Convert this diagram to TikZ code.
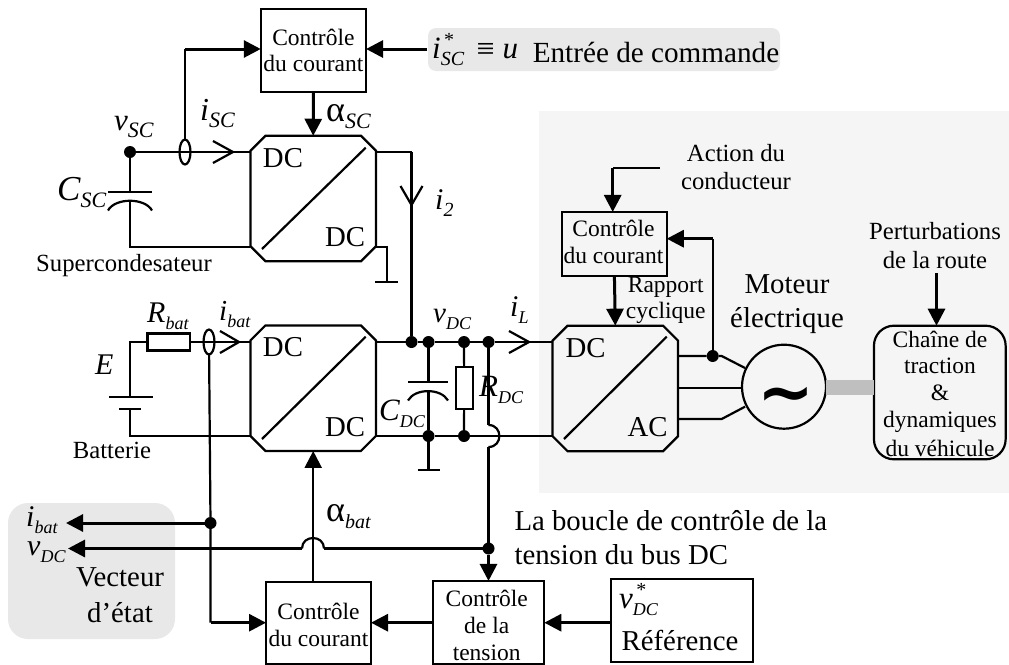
\documentclass[tikz,border=0pt]{standalone}
\usepackage{fontspec}
\setmainfont{Liberation Serif}
\newfontfamily\symfont{DejaVu Sans}
\usetikzlibrary{arrows.meta,shapes.geometric,calc}
\newcommand\fsz[1]{\fontsize{#1}{#1}\selectfont}
% letter, subscript, [letter size], subscript size
\newcommand\sym[4][31]{{\fsz{#1}\itshape #2}\raisebox{-7pt}{\fsz{#4}\itshape #3}}
\newcommand\symstar[4][31]{{\fsz{#1}\itshape #2}\rlap{\raisebox{12pt}{\fsz{20}\,*}}\raisebox{-7pt}{\fsz{#4}\itshape #3}}
\newcommand\alp[2]{{\fsz{36}α}\raisebox{-7pt}{\fsz{#2}\itshape #1}}
% chamfered converter outline around a named rectangle node
\newcommand\chamf[1]{\draw[wire,line join=miter] ($(#1.north west)+(15,0)$) -- ($(#1.north east)+(-15,0)$) -- ($(#1.north east)+(0,15)$) -- ($(#1.south east)+(0,-15)$) -- ($(#1.south east)+(-15,0)$) -- ($(#1.south west)+(15,0)$) -- ($(#1.south west)+(0,-15)$) -- ($(#1.north west)+(0,15)$) -- cycle;}
\tikzset{
  x=1pt,y=-1pt,
  wire/.style={line width=2.2pt,line join=miter},
  bus/.style={line width=3pt},
  sig/.style={bus,-{Triangle[length=17pt,width=17pt]}},
  wsig/.style={wire,-{Triangle[length=17pt,width=17pt]}},
  ctrl/.style={draw,line width=2.2pt,rectangle,inner sep=0pt,outer sep=0pt,align=center},
  ctrltext/.style={font=\fsz{23.5},align=center,inner sep=0pt},
  conv/.style={rectangle,minimum width=125.5pt,minimum height=125.5pt,inner sep=0pt,outer sep=0pt},
  ringn/.style={draw,line width=2.2pt,ellipse,minimum width=11pt,minimum height=25pt,inner sep=0pt,outer sep=0pt},
  jdot/.style={circle,fill=black,minimum size=12pt,inner sep=0pt,outer sep=0pt},
  res/.style={draw,line width=2.2pt,rectangle,inner sep=0pt,outer sep=0pt},
  big/.style={font=\fsz{28.8},inner sep=0pt,align=center},
  mid/.style={font=\fsz{24.7},inner sep=0pt,align=center},
  small/.style={font=\fsz{23.5},inner sep=0pt,align=center},
  lbl/.style={anchor=base west,inner sep=0pt},
}
\begin{document}
\begin{tikzpicture}
\useasboundingbox (0,0) rectangle (1009,664);
% backgrounds
\fill[black!4] (539.3,111) rectangle (1009,493);
\fill[black!9,rounded corners=8pt] (428,28) rectangle (780,71);
\fill[black!9,rounded corners=20pt] (8,503) rectangle (175,639);
% converters
\node[conv] (sc) at (313.2,198.5) {};
\node[conv] (bat) at (313.2,388.2) {};
\node[conv] (ac) at (615.3,388.4) {};
\chamf{sc}
\chamf{bat}
\chamf{ac}
\draw[wire] (262,249) -- (365.7,147.7);
\draw[wire] (262,439) -- (365.7,336.7);
\draw[wire] (564,439) -- (666.7,336.7);
\node[big] (t1) at (283,158) {DC};
\node[big] (t2) at (345,237) {DC};
\node[big] (t3) at (283,347) {DC};
\node[big] (t4) at (345,427) {DC};
\node[big] (t5) at (585.5,347.7) {DC};
\node[big] (t6) at (647.7,426.7) {AC};
% control boxes
\node[ctrl,minimum width=105.3pt,minimum height=83.3pt,font=\fsz{23.5}] (cc1) at (313.4,50.6) {Contrôle\\[3pt]du courant};
\node[ctrl,minimum width=104.7pt,minimum height=63.7pt] (cc2) at (614.4,243.8) {};
\node[ctrltext] (cc2t) at (613.5,241.8) {Contrôle\\[3pt]du courant};
\node[ctrl,minimum width=105pt,minimum height=82.5pt] (cc3) at (318.5,623.2) {};
\node[ctrltext] (cc3t) at (318.5,625) {Contrôle\\[3pt]du courant};
\node[ctrl,minimum width=111.6pt,minimum height=83.5pt] (cv) at (488.5,622.7) {};
\node[ctrltext] (cvt1) at (486.7,598) {Contrôle};
\node[ctrltext] (cvt2) at (486.7,625.5) {de la};
\node[ctrltext] (cvt3) at (486.7,652.5) {tension};
\node[ctrl,minimum width=141.7pt,minimum height=82.7pt] (ref) at (681.9,620.4) {};
\node[lbl] (vref) at (619,608) {\symstar{v}{DC}{18}};
\node[big] (reft) at (680,640) {Référence};
% SC branch
\node[jdot] (vsc) at (130,152) {};
\node[ringn] (ringsc) at (185,152) {};
\draw[wire] (vsc) -- (sc.west |- vsc) coordinate (scin);
\coordinate (chev1) at (233,152);
\draw[wire] ($(chev1)+(-20,-11)$) -- (chev1) -- ($(chev1)+(-20,11)$);
\coordinate (csctop) at (130,192);
\coordinate (cscbot) at (130,200);
\draw[wire] (vsc) -- (csctop);
\draw[wire] (108,192) -- (152,192);
\draw[wire] (108,210.5) .. controls (115,197.5) and (145,197.5) .. (152,210.5);
\coordinate (scret) at (sc.west |- 0,247);
\draw[wire] (cscbot) |- (scret);
\coordinate (fb1) at (185,49);
\draw[wire] (ringsc) -- (fb1);
\draw[sig] (fb1) -- (cc1.west |- fb1);
\coordinate (uin) at (427,49);
\draw[sig] (uin) -- (cc1.east |- uin);
\draw[sig] (cc1.south) -- (sc.north);
% SC output
\node[jdot] (b1) at (411.5,342) {};
\coordinate (sctop) at (411.5,152);
\draw[wire] (sc.east |- sctop) -- (sctop);
\draw[bus] (sctop) -- (b1);
\coordinate (chev2) at (411.5,205);
\draw[wire] ($(chev2)+(-11,-19)$) -- (chev2) -- ($(chev2)+(11,-19)$);
\coordinate (g1) at (387,247);
\coordinate (g1b) at (387,282);
\draw[wire] (sc.east |- g1) -- (g1) -- (g1b);
\draw[wire] (375,282) -- (398,282);
% battery branch
\coordinate (ec) at (130,342);
\node[res,minimum width=42.5pt,minimum height=17pt] (rbat) at (168.7,342) {};
\node[ringn] (ringbat) at (209,342) {};
\draw[wire] (rbat.west) -- (ec) -- (130,397);
\draw[wire] (rbat.east) -- (bat.west |- rbat);
\draw[wire] (109,397.3) -- (153,397.3);
\draw[wire] (119,408.7) -- (141,408.7);
\coordinate (eb) at (130,408.7);
\coordinate (batret) at (bat.west |- 0,436);
\draw[wire] (eb) |- (batret);
\coordinate (chev3) at (239,342);
\draw[wire] ($(chev3)+(-19,-11)$) -- (chev3) -- ($(chev3)+(-19,11)$);
\node[jdot] (j5) at (210.5,523) {};
\coordinate (ib) at (210.5,622.7);
\draw[wire] (ringbat) -- (j5) -- (ib);
\draw[sig] (ib) -- (cc3.west |- ib);
\coordinate (ibout) at (66,523);
\draw[sig] (j5) -- (ibout);
% DC bus
\node[jdot] (b2) at (428.5,342) {};
\node[jdot] (b3) at (464,342) {};
\node[jdot] (b4) at (488.5,342) {};
\node[jdot] (b5) at (428.5,436) {};
\node[jdot] (b6) at (464,436) {};
\draw[wire] (bat.east |- b1) -- (b1) -- (b2) -- (b3) -- (b4) -- (ac.west |- b4);
\draw[wire] (bat.east |- b5) -- (b5) -- (b6) -- (ac.west |- b6);
\coordinate (chev4) at (529,342);
\draw[wire] ($(chev4)+(-20,-11)$) -- (chev4) -- ($(chev4)+(-20,11)$);
\coordinate (cdct) at (428.5,382);
\coordinate (cdcb) at (428.5,391);
\coordinate (gd) at (428.5,470);
\draw[wire] (b2) -- (cdct);
\draw[wire] (408,382) -- (448,382);
\draw[wire] (408,400.5) .. controls (415,388) and (441,388) .. (448,400.5);
\draw[wire] (cdcb) -- (b5) -- (gd);
\draw[wire] (417.5,470) -- (440,470);
\node[res,minimum width=17pt,minimum height=42pt] (rdc) at (464.2,387.7) {};
\draw[wire] (b3) -- (rdc);
\draw[wire] (rdc) -- (b6);
% voltage measure
\node[jdot] (j6) at (488.5,548.5) {};
\coordinate (ja) at (488.5,425);
\coordinate (jb) at (488.5,447);
\draw[bus] (b4) -- (ja);
\draw[wire] (ja) .. controls (503,425) and (503,447) .. (jb);
\draw[bus] (jb) -- (j6);
\draw[sig] (j6) -- (cv.north -| j6);
\coordinate (j1) at (324,548.5);
\coordinate (j2) at (302,548.5);
\coordinate (vout) at (68,548.5);
\draw[bus] (j6) -- (j1);
\draw[wire] (j1) .. controls (324,534.5) and (302,534.5) .. (j2);
\draw[sig] (j2) -- (vout);
% lower control links
\draw[wsig] (cc3.north -| bat.south) -- (bat.south);
\coordinate (cv1) at (433,622.7);
\draw[sig] (cv.west |- cv1) -- (cc3.east |- cv1);
\draw[sig] (ref.west |- cv1) -- (cv.east |- cv1);
% motor
\node[circle,draw,line width=2.2pt,minimum size=84pt,inner sep=0pt,outer sep=0pt] (mot) at (784,386.7) {};
\node[inner sep=0pt] (tld) at (785.5,401) {\fsz{68}\bfseries\symfont ∼};
\node[jdot] (j7) at (712.7,356) {};
\coordinate (p1a) at (721.7,356);
\coordinate (p1b) at (745,368);
\coordinate (p3a) at (721.7,419);
\coordinate (p3b) at (745,406.7);
\coordinate (p2) at (742,388);
\draw[wire] (ac.east |- j7) -- (j7) -- (p1a) -- (p1b);
\draw[wire] (ac.east |- p2) -- (p2);
\draw[wire] (ac.east |- p3a) -- (p3a) -- (p3b);
\coordinate (fbk) at (712.7,238.7);
\draw[wire] (j7) -- (fbk);
\draw[sig] (fbk) -- (cc2.east |- fbk);
\draw[sig] (cc2.south) -- (ac.north);
\coordinate (act1) at (660,168.3);
\coordinate (act2) at (612.7,168.3);
\draw[wire] (act1) -- (act2);
\draw[sig] (act2) -- (cc2.north -| act2);
% chain
\node[draw,line width=2.2pt,rounded corners=20pt,minimum width=131.7pt,minimum height=133.6pt,inner sep=0pt,outer sep=0pt] (chain) at (939.8,392.5) {};
\fill[black!25] (mot.east |- 0,380) rectangle (chain.west |- 0,395);
\coordinate (pert) at (936.5,273);
\draw[sig] (pert) -- (chain.north -| pert);
\node[small] (ch1) at (940,339) {Chaîne de};
\node[small] (ch2) at (940,366) {traction};
\node[small] (ch3) at (940,392.7) {\&};
\node[small] (ch4) at (940,421.7) {dynamiques};
\node[small] (ch5) at (940,448) {du véhicule};
% text
\node[mid] (sup) at (124,266) {Supercondesateur};
\node[mid] (batt) at (112,450) {Batterie};
\node[mid] (act) at (736,167) {Action du\\[3.5pt]conducteur};
\node[mid] (per) at (935,245.5) {Perturbations\\[4pt]de la route};
\node[small] (rap) at (665.7,300) {Rapport\\[2.5pt]cyclique};
\node[big] (mo) at (787,304.5) {Moteur\\[5pt]électrique};
\node[big] (vec) at (120,577) {Vecteur};
\node[big] (eta) at (120,613) {d’état};
\node[big,anchor=base west] (boucle) at (514.3,530) {La boucle de contrôle de la};
\node[big,anchor=base west] (bus2) at (514.3,564) {tension du bus DC};
\node[font=\fsz{29.2},inner sep=0pt] (ent) at (656,52) {Entrée de commande};
% symbols
\node[lbl] (l1) at (432,58) {\symstar{i}{SC}{20}};
\node[lbl,font=\fsz{32}] (equiv) at (476.5,59) {≡};
\node[lbl,font=\fsz{31}\itshape] (uvar) at (502.5,58.7) {u};
\node[lbl] (l2) at (114,130) {\sym{v}{SC}{22}};
\node[lbl] (l3) at (200,120) {\sym[32]{i}{SC}{22}};
\node[lbl] (l4) at (57,200) {\sym[35]{C}{SC}{22}};
\node[lbl] (l5) at (326,121) {\alp{SC}{22}};
\node[lbl] (l6) at (435,209) {\sym[30]{i}{2}{20}};
\node[lbl] (l7) at (147,322) {\sym[30]{R}{bat}{18}};
\node[lbl] (l8) at (219,320) {\sym[29]{i}{bat}{18}};
\node[lbl] (l9) at (95,374) {{\fsz{30}\itshape E}};
\node[lbl] (l10) at (433,322) {\sym[29]{v}{DC}{18}};
\node[lbl] (l11) at (379,420) {\sym[31]{C}{DC}{18}};
\node[lbl] (l12) at (479,396) {\sym[31]{R}{DC}{18}};
\node[lbl] (l13) at (510,316) {\sym[30]{i}{L}{18}};
\node[lbl] (l14) at (26,526) {\sym[30]{i}{bat}{18}};
\node[lbl] (l15) at (27,555) {\sym[30]{v}{DC}{18}};
\node[lbl] (l16) at (326,521) {\alp{bat}{20}};
\end{tikzpicture}
\end{document}
